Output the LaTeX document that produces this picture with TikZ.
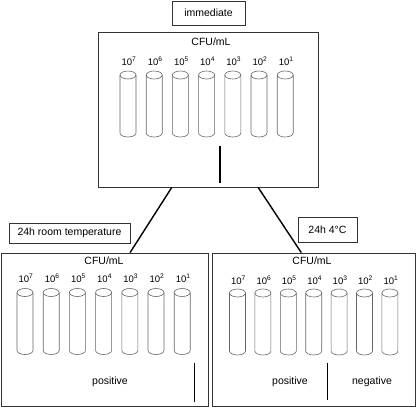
\documentclass[tikz,border=0pt]{standalone}
\usepackage{fontspec}
\setmainfont{Liberation Sans}
\usetikzlibrary{calc}
\begin{document}
\begin{tikzpicture}[x=1pt,y=-1pt,
  frame/.style={draw=black!80,line width=0.8pt,rectangle,inner sep=0pt},
  titlebox/.style={draw=black!80,line width=0.8pt,rectangle,inner sep=0pt,font=\fontsize{10.5}{12}\selectfont},
  link/.style={draw=black,line width=1.4pt},
  bar/.style={draw=black,line width=1.4pt},
  tube/.style={draw=black!60,line width=0.6pt},
  lbl/.style={font=\fontsize{9.5}{11}\selectfont,inner sep=0pt},
  txt/.style={font=\fontsize{10.5}{12}\selectfont,inner sep=0pt}]
\useasboundingbox (0,0) rectangle (416,407);
% boxes
\node[frame,minimum width=220pt,minimum height=155pt] (top) at (208,109.5) {};
\node[frame,minimum width=207pt,minimum height=153pt] (left) at (104.5,329.5) {};
\node[frame,minimum width=203pt,minimum height=153pt] (right) at (313.5,329.5) {};
% titles
\node[titlebox,minimum width=73pt,minimum height=24pt] (ttop) at (208.5,13) {immediate};
\node[titlebox,minimum width=121pt,minimum height=20pt] (tleft) at (69.5,233) {24h room temperature};
\node[titlebox,minimum width=59pt,minimum height=25pt] (tright) at (327.5,229.5) {24h 4°C};
% connectors
\draw[link] ($(top.south west)!0.336!(top.south east)$) -- ($(left.north west)!0.623!(left.north east)$);
\draw[link] ($(top.south west)!0.727!(top.south east)$) -- ($(right.north west)!0.44!(right.north east)$);
% CFU labels
\node[txt] (cfutop) at (211,42) {CFU/mL};
\node[txt] (cfuleft) at (104,261) {CFU/mL};
\node[txt] (cfuright) at (312,261) {CFU/mL};
% tubes
\foreach \xs/\st/\yt/\yl/\nm in {128/26.2/75/61/a, 25/26.2/292.5/278/b, 237.5/25.4/293/280.5/c}{
  \foreach \i/\e in {0/7,1/6,2/5,3/4,4/3,5/2,6/1}{
    \pgfmathsetmacro{\xx}{\xs+\st*\i}
    \pgfmathsetmacro{\yb}{\yt+58}
    \draw[tube] (\xx-8,\yt) -- (\xx-8,\yb) arc[start angle=180,end angle=360,x radius=8pt,y radius=4pt] -- (\xx+8,\yt);
    \draw[tube] (\xx,\yt) ellipse[x radius=8pt,y radius=4pt];
    \node[lbl] (l\nm\i) at (\xx+1,\yl) {10\textsuperscript{\e}};
  }
}
% bars
\coordinate (b1a) at (220,146); \coordinate (b1b) at (220,183);
\draw[bar] (b1a) -- (b1b);
\coordinate (b2a) at (194.5,363); \coordinate (b2b) at (194.5,402);
\draw[bar] (b2a) -- (b2b);
\coordinate (b3a) at (327.5,363); \coordinate (b3b) at (327.5,399.5);
\draw[bar] (b3a) -- (b3b);
% result labels
\node[txt] (pl) at (110,382) {positive};
\node[txt] (pr) at (290,382) {positive};
\node[txt] (nr) at (372,382) {negative};
\end{tikzpicture}
\end{document}
